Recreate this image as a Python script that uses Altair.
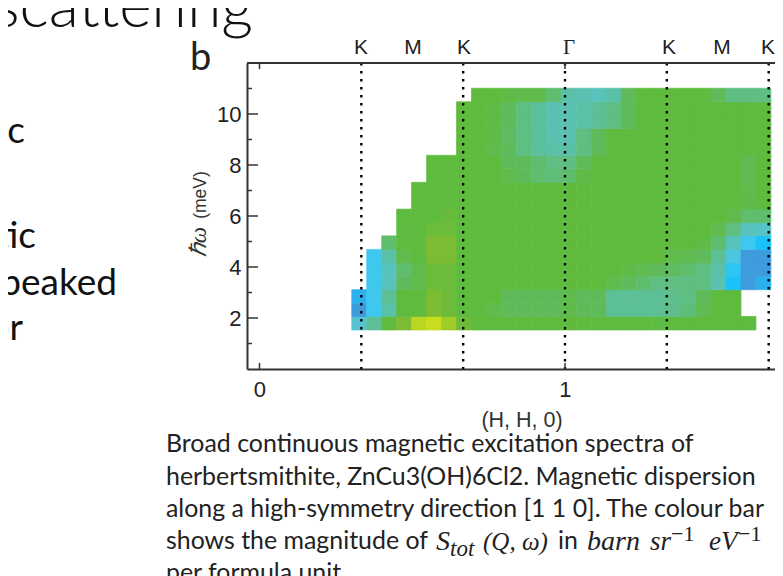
import altair as alt
import pandas as pd

N = None
H_EDGES = [0.302, 0.351, 0.400, 0.449, 0.498, 0.547, 0.596, 0.645, 0.694, 0.743,
           0.792, 0.841, 0.890, 0.939, 0.988, 1.037, 1.086, 1.135, 1.184, 1.233,
           1.282, 1.331, 1.380, 1.429, 1.478, 1.527, 1.576, 1.625, 1.674]
W_EDGES = [1.53, 2.06, 2.58, 3.11, 3.64, 4.16, 4.69, 5.22, 5.74, 6.27,
           6.80, 7.32, 7.85, 8.38, 8.90, 9.43, 9.96, 10.48, 11.01]

ROWS = [
    [4, 2.5, 0, -1, -2.6, -3, -2, -0.5] + [0] * 12 + [0.2] + [0] * 6 + [N],
    [7, 5, 3, 0, 0, -1, -.5, 0, 0, .5, 1, 1, 1, 1, .5, 1, 1, 2.5, 2.5, 2.5, 2.5, 2.2, 1.8, .7, 0, 0, N, N],
    [6.5, 5, 2.5, 0, 0, -1, -.5, 0, 0, 0, 1, 1, 1, 1, .5, 1, 1, 2.5, 2.5, 2.5, 2.5, 2.3, 2, 1, 0, 0, N, N],
    [N, 5, 3.5, 1, .5, -.5, -.5] + [0] * 10 + [.5, 1, 1.5, 2, 2, 2, 2, 3.2, 6, 7, 6.5],
    [N, 5, 3.5, 1.5, .5, -.5, -.5] + [0] * 11 + [.3, .7, 1, 1.2, 1.5, 2, 3, 5.5, 7, 7],
    [N, 5, 3, .5, 0, -1, -1] + [0] * 14 + [.5, .7, 1, 2.5, 4.5, 7, 7],
    [N, N, 1.5, 0, 0, -1, -1] + [0] * 16 + [.3, 1.5, 3.5, 5, 6],
    [N, N, N, .2, 0, -.5, -.5] + [0] * 17 + [.7, 2, 3.5, 3.8],
    [N, N, N, 0, 0, 0, -.3] + [0] * 18 + [.5, 1.5, 1.5],
    [N] * 4 + [0] * 22 + [.4, 0],
    [N] * 4 + [0] * 22 + [.5, 0],
    [N] * 5 + [0] * 5 + [.5, 1, 1.5, 1.8, 1.5, .3] + [0] * 10 + [.7, 0],
    [N] * 5 + [0] * 5 + [1, 1, 1.5, 2, 2, 1] + [0] * 10 + [.7, 0],
    [N] * 7 + [0, 0, .5, 1, 2, 2.7, 3, 3, 2, 1] + [0] * 11,
    [N] * 7 + [0, 0, .3, 1.2, 2, 2.7, 3.2, 3.2, 2, 1] + [0] * 11,
    [N] * 7 + [0, 0, .3, 1, 2, 2.7, 3.2, 3.2, 3, 2.5, 2, 1] + [0] * 9,
    [N] * 7 + [0, 0, .3, 1, 2, 2.7, 3.2, 3.2, 3, 2.5, 2, 1] + [0] * 9,
    [N] * 8 + [0, 0, .3, .5, .5, 1.5, 3, 3.2, 3.5, 3, 1, 0, 0, 0, 0, 0, 1, 2, 2, 2],
]
LEVELS = [-3, -2, -1, 0, 1, 2, 3, 4, 5, 6, 7]
COLOURS = ["#c9dd1f", "#a0cc2a", "#7cbc33", "#5ebb3e", "#5fbb5a", "#5fbe82",
           "#5bc0a8", "#55c4d0", "#3fc8ee", "#1bc2fa", "#3e9bdc"]
K_POINTS = [1 / 3, 2 / 3, 1, 4 / 3, 5 / 3]
Y_MAJOR = [2, 4, 6, 8, 10]
Y_MINOR = [1, 3, 5, 7, 9, 11]
X_TICKS = [0, 1]
TOP_LABELS = [("K", 361), ("M", 413), ("K", 464), ("K", 669), ("M", 722), ("K", 768)]

cells = []
for r, row in enumerate(ROWS):
    for c, v in enumerate(row):
        if v is not None:
            cells.append(dict(h0=H_EDGES[c], h1=H_EDGES[c + 1], w0=W_EDGES[r], w1=W_EDGES[r + 1], v=v))
cells = pd.DataFrame(cells)

PL, PT = 247, 63
W, H = 528, 306
x_scale = alt.Scale(domain=[-0.0409, 1.6874], nice=False, zero=False)
y_scale = alt.Scale(domain=[0, 12], nice=False, zero=False)
c_scale = alt.Scale(domain=LEVELS, range=COLOURS, interpolate="rgb", clamp=True)
DARK = "#333333"
SANS = "Liberation Sans"
SERIF = "Liberation Serif"
one = pd.DataFrame({"a": [0]})

heat = alt.Chart(cells).mark_rect(strokeWidth=0.7).encode(
    x=alt.X("h0:Q", scale=x_scale, title=None,
            axis=alt.Axis(values=X_TICKS, ticks=False, grid=False, format="d", domainColor=DARK, domainWidth=2,
                          labelFont=SANS, labelFontSize=22, labelColor="#222222", labelPadding=10)),
    x2="h1:Q",
    y=alt.Y("w0:Q", scale=y_scale, title=None,
            axis=alt.Axis(values=Y_MAJOR, ticks=False, grid=False, domainColor=DARK, domainWidth=2,
                          labelFont=SANS, labelFontSize=22, labelColor="#222222", labelPadding=6)),
    y2="w1:Q",
    color=alt.Color("v:Q", legend=None, scale=c_scale),
    stroke=alt.Stroke("v:Q", legend=None, scale=c_scale),
)

k_lines = alt.Chart(pd.DataFrame({"h": K_POINTS})).mark_rule(
    color="#000000", strokeWidth=2.4, strokeDash=[2.4, 5.6]).encode(
    x=alt.X("h:Q", scale=x_scale), y=alt.value(0), y2=alt.value(H))

top_line = alt.Chart(one).mark_rule(color=DARK, strokeWidth=2).encode(
    x=alt.value(0), x2=alt.value(W), y=alt.value(0))


def h_ticks(values, x0, x1):
    return alt.Chart(pd.DataFrame({"y": values})).mark_rule(color=DARK, strokeWidth=1.5).encode(
        y=alt.Y("y:Q", scale=y_scale), x=alt.value(x0), x2=alt.value(x1))


def v_ticks(values, y0, y1):
    return alt.Chart(pd.DataFrame({"x": values})).mark_rule(color=DARK, strokeWidth=1.5).encode(
        x=alt.X("x:Q", scale=x_scale), y=alt.value(y0), y2=alt.value(y1))


def text(s, px, py, size, font=SANS, color="#222222", **kw):
    return alt.Chart(one).mark_text(text=s, fontSize=size, font=font, color=color,
                                    align=kw.pop("align", "left"), baseline="alphabetic", **kw).encode(
        x=alt.value(px - PL), y=alt.value(py - PT))


layers = [
    heat, k_lines, top_line,
    h_ticks(Y_MAJOR, 0, 11), h_ticks(Y_MINOR, 0, 5),
    v_ticks(X_TICKS, H - 6, H), v_ticks(X_TICKS, 0, 6),
]
for s, px in TOP_LABELS:
    layers.append(text(s, px, 54, 21, align="center"))
layers.append(text("Γ", 569, 54, 21, font=SERIF, align="center"))
layers.append(text("(H, H, 0)", 522, 427, 21.5, align="center", color="#333333"))
layers.append(text("(meV)", 206, 195, 17.5, align="center", angle=270, color="#333333"))
layers.append(text("ℏω", 206, 242, 23, font=SERIF, fontStyle="italic", align="center", angle=270, color="#333333"))
layers.append(text("b", 190, 70, 38, font="Lato"))

BODY = "Lato"
CAP = 24.9
layers += [
    text("scattering", 253, 27, 62, font=BODY, align="right", color="#111111", fontWeight=300),
    text("ic", 25, 143, 37, font=BODY, align="right", color="#111111"),
    text("tic", 36, 248, 37, font=BODY, align="right", color="#111111"),
    text("peaked", 117, 295, 37, font=BODY, align="right", color="#111111"),
    text("or", 23, 340, 37, font=BODY, align="right", color="#111111"),
    text("Broad continuous magnetic excitation spectra of", 166, 452, CAP, font=BODY),
    text("herbertsmithite, ZnCu3(OH)6Cl2. Magnetic dispersion", 166, 485, CAP, font=BODY),
    text("along a high-symmetry direction [1 1 0]. The colour bar", 166, 517, CAP, font=BODY),
    text("shows the magnitude of", 166, 549, CAP, font=BODY),
    text("S", 436, 550, 28, font=SERIF, fontStyle="italic"),
    text("tot", 450, 556, 23, font=SERIF, fontStyle="italic"),
    text("(Q, ω)", 483, 550, 25, font=SERIF, fontStyle="italic"),
    text("in", 558, 549, CAP, font=BODY),
    text("barn", 587, 550, 28, font=SERIF, fontStyle="italic"),
    text("sr", 650, 550, 27, font=SERIF, fontStyle="italic"),
    text("−1", 671, 541, 22, font=SERIF),
    text("eV", 709, 550, 27, font=SERIF, fontStyle="italic"),
    text("−1", 738, 541, 22, font=SERIF),
    text("per formula unit", 166, 581, CAP, font=BODY),
]

chart = alt.layer(*layers).resolve_scale(x="shared", y="shared").properties(
    width=W, height=H,
    autosize=alt.AutoSizeParams(type="none"),
    padding={"left": PL - 8, "top": PT - 8, "right": 0, "bottom": 207},
    background="white",
).configure_view(stroke=None)

chart.save("out.html", embed_options={"renderer": "svg", "actions": False})
